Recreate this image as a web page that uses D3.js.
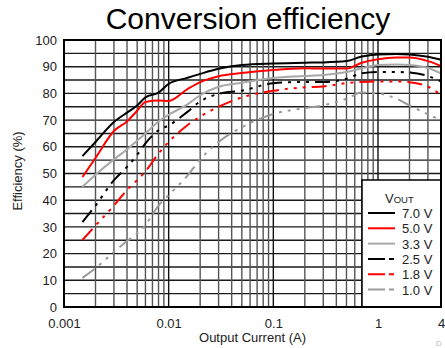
<!DOCTYPE html>
<html lang="en">
<head>
<meta charset="UTF-8">
<title>Conversion efficiency</title>
<script src="https://d3js.org/d3.v7.min.js"></script>
<style>
  body { margin: 0; background: #fff; }
  svg { display: block; font-family: "Liberation Sans", Arial, sans-serif; }
</style>
</head>
<body>
<script>
// output current (A) sampled along every curve
var current = [0.0015, 0.002, 0.003, 0.004, 0.005, 0.006, 0.008, 0.01, 0.015, 0.02, 0.03,
  0.05, 0.1, 0.2, 0.3, 0.5, 0.7, 1, 1.5, 2, 3, 4];

// efficiency (%) for each output voltage
var eff70 = [56.5, 61.8, 69.3, 72.8, 75.5, 78.5, 80.3, 83.6, 85.8, 87.3, 89.2,
  90.6, 91.2, 91.5, 91.6, 92.1, 93.8, 94.6, 94.8, 94.6, 93.7, 92.6];
var eff50 = [48.7, 55.8, 65.9, 69.5, 73.5, 76.8, 77.3, 77.2, 81.5, 84.2, 86.4,
  87.6, 88.8, 89.4, 89.3, 89.3, 91.5, 92.8, 93.4, 93.4, 92.1, 90.3];
var eff33 = [45, 49.5, 55.3, 59, 62.3, 65, 69.5, 72, 75.8, 79.3, 82.5,
  84, 85.8, 86.5, 86.9, 88, 89.4, 90.6, 90.8, 90.6, 89.5, 87.5];
var eff25 = [31.8, 38, 47.5, 52.5, 57, 61.3, 66.2, 68, 73, 77, 79.8,
  81, 83.8, 84.3, 84.3, 85.5, 87.5, 88, 88, 87.8, 86.5, 84.5];
var eff18 = [25.1, 30.5, 38, 43.8, 47.5, 50.8, 57.5, 61.8, 68, 71.3, 75,
  78.5, 81, 82.3, 82.6, 83.9, 84.3, 84.5, 84.5, 84.2, 82.5, 79.5];
var eff10 = [10.9, 14.5, 20.6, 24.7, 27.5, 30.7, 38, 41.9, 49, 55.2, 61.8,
  67.3, 72.3, 74.5, 75.5, 78, 80.3, 80, 78, 75.5, 72.2, 70];

var vout = ["7.0 V", "5.0 V", "3.3 V", "2.5 V", "1.8 V", "1.0 V"];
var colors = ["#000", "#ff0000", "#a8a8a8", "#000", "#ff0000", "#9a9a9a"];
var dashed = [false, false, false, true, true, true];
var effs = [eff70, eff50, eff33, eff25, eff18, eff10];

var yTicks = [0, 10, 20, 30, 40, 50, 60, 70, 80, 90, 100];
var xTicks = [0.001, 0.01, 0.1, 1, 4];

var W = 445, H = 348;
var L = 64, R = 441, T = 40, B = 307;

var svg = d3.select("body").append("svg")
  .attr("width", W).attr("height", H);

var x = d3.scaleLog().domain([0.001, 4]).range([L, R]);
var y = d3.scaleLinear().domain([0, 100]).range([B, T]);

// title
svg.append("text")
  .attr("x", 248).attr("y", 29)
  .attr("text-anchor", "middle")
  .style("font-size", "30px")
  .text("Conversion efficiency");

// grid
var grid = svg.append("g");
d3.range(5, 100, 5).forEach(function (v) {
  grid.append("line")
    .attr("x1", L).attr("x2", R).attr("y1", y(v)).attr("y2", y(v))
    .attr("stroke", "#1a1a1a").attr("stroke-width", 1.4);
});
var vLines = [];
[0.001, 0.01, 0.1, 1].forEach(function (dec) {
  for (var k = 1; k <= 9; k++) {
    var v = dec * k;
    if (v > 0.001 && v < 4) vLines.push({ v: v, major: k === 1 });
  }
});
vLines.forEach(function (d) {
  grid.append("line")
    .attr("x1", x(d.v)).attr("x2", x(d.v)).attr("y1", T).attr("y2", B)
    .attr("stroke", d.major ? "#111" : "#555").attr("stroke-width", 1.4);
});

// curves
var line = d3.line()
  .x(function (d) { return x(d[0]); })
  .y(function (d) { return y(d[1]); })
  .curve(d3.curveMonotoneX);

effs.forEach(function (e, i) {
  var pts = current.map(function (c, j) { return [c, e[j]]; });
  svg.append("path")
    .attr("d", line(pts))
    .attr("fill", "none")
    .attr("stroke", colors[i])
    .attr("stroke-width", 2)
    .attr("stroke-dasharray", dashed[i] ? "15 6 3 6 3 6 3 6" : null);
});

// legend box
var lg = svg.append("g");
lg.append("rect")
  .attr("x", 362).attr("y", 180).attr("width", R - 362).attr("height", B - 180)
  .attr("fill", "#fff").attr("stroke", "#000").attr("stroke-width", 1.5);
var vt = lg.append("text").attr("x", 385).attr("y", 203).style("font-size", "13px").attr("fill", "#222");
vt.append("tspan").text("V");
vt.append("tspan").style("font-size", "9.5px").text("OUT");
vout.forEach(function (name, i) {
  var ly = 213 + i * 15.3;
  lg.append("line")
    .attr("x1", 368).attr("x2", 395).attr("y1", ly).attr("y2", ly)
    .attr("stroke", colors[i]).attr("stroke-width", 2)
    .attr("stroke-dasharray", dashed[i] ? "17 4 5 10" : null);
  lg.append("text")
    .attr("x", 402).attr("y", ly + 5)
    .style("font-size", "13px").attr("fill", "#222")
    .text(name);
});

// frame
svg.append("rect")
  .attr("x", L).attr("y", T).attr("width", R - L).attr("height", B - T)
  .attr("fill", "none").attr("stroke", "#000").attr("stroke-width", 2);

// axes (labels only)
var ya = svg.append("g")
  .attr("transform", "translate(" + L + ",0)")
  .call(d3.axisLeft(y).tickValues(yTicks).tickSize(0).tickPadding(7));
var xa = svg.append("g")
  .attr("transform", "translate(0," + B + ")")
  .call(d3.axisBottom(x).tickValues(xTicks).tickSize(0).tickPadding(12)
    .tickFormat(function (d) { return String(d); }));
[ya, xa].forEach(function (a) {
  a.select(".domain").remove();
  a.selectAll("text")
    .style("font-size", "13px")
    .style("font-family", "'Liberation Sans', Arial, sans-serif")
    .attr("fill", "#222");
});

svg.append("text")
  .attr("x", (L + R) / 2).attr("y", 342)
  .attr("text-anchor", "middle")
  .style("font-size", "13px").attr("fill", "#222")
  .text("Output Current (A)");

svg.append("text")
  .attr("transform", "translate(22," + 171 + ") rotate(-90)")
  .attr("text-anchor", "middle")
  .style("font-size", "13px").attr("fill", "#222")
  .text("Efficiency (%)");

svg.append("text")
  .attr("x", 436).attr("y", 346)
  .style("font-size", "8px").attr("fill", "#bbb")
  .text("D");
</script>
</body>
</html>
